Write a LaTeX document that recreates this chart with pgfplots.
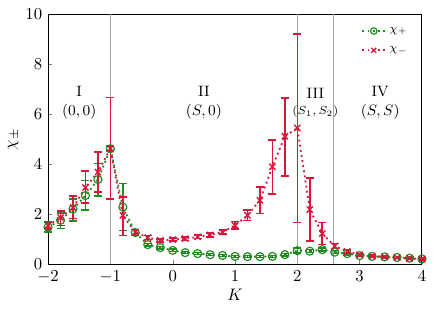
\documentclass[border=0pt]{standalone}
\usepackage{pgfplots}
\pgfplotsset{compat=1.18}
\usepackage{pgfplotstable}
\definecolor{cgreen}{RGB}{30,140,30}
\definecolor{cred}{RGB}{220,20,60}
\pgfplotstableread{
x y ep em
-2.0 1.49 0.20 0.20
-1.8 1.76 0.30 0.33
-1.6 2.21 0.40 0.48
-1.4 2.75 0.60 0.58
-1.2 3.39 0.64 0.67
-1.0 4.62 0.10 0.10
-0.8 2.29 0.94 0.94
-0.6 1.27 0.12 0.12
-0.4 0.79 0.05 0.05
-0.2 0.67 0.05 0.05
0.0 0.56 0.05 0.05
0.2 0.47 0.04 0.04
0.4 0.43 0.04 0.04
0.6 0.39 0.04 0.04
0.8 0.36 0.04 0.04
1.0 0.32 0.04 0.04
1.2 0.31 0.04 0.04
1.4 0.31 0.04 0.04
1.6 0.32 0.04 0.04
1.8 0.39 0.05 0.05
2.0 0.55 0.10 0.10
2.2 0.53 0.06 0.06
2.4 0.59 0.06 0.06
2.6 0.49 0.06 0.06
2.8 0.43 0.05 0.05
3.0 0.35 0.04 0.04
3.2 0.32 0.04 0.04
3.4 0.30 0.04 0.04
3.6 0.28 0.04 0.04
3.8 0.25 0.04 0.04
4.0 0.22 0.04 0.04
}\chiplus
\pgfplotstableread{
x y ep em
-2.0 1.56 0.15 0.15
-1.8 1.87 0.26 0.31
-1.6 2.27 0.45 0.44
-1.4 3.07 0.65 0.62
-1.2 3.69 0.80 0.80
-1.0 4.63 2.04 2.03
-0.8 1.96 0.74 0.80
-0.6 1.29 0.11 0.14
-0.4 1.07 0.08 0.08
-0.2 0.96 0.06 0.06
0.0 0.99 0.06 0.06
0.2 1.03 0.07 0.07
0.4 1.10 0.07 0.07
0.6 1.18 0.08 0.08
0.8 1.29 0.08 0.08
1.0 1.56 0.15 0.15
1.2 1.96 0.20 0.20
1.4 2.56 0.54 0.53
1.6 3.90 1.06 1.10
1.8 5.12 1.53 1.59
2.0 5.45 3.74 3.78
2.2 2.19 1.26 1.26
2.4 1.23 0.45 0.44
2.6 0.73 0.10 0.10
2.8 0.52 0.06 0.06
3.0 0.39 0.05 0.05
3.2 0.33 0.04 0.04
3.4 0.30 0.04 0.04
3.6 0.27 0.04 0.04
3.8 0.24 0.04 0.04
4.0 0.21 0.04 0.04
}\chiminus
\begin{document}
\begin{tikzpicture}
\begin{axis}[
  name=ax,
  scale only axis,
  width=224pt, height=150pt,
  xmin=-2, xmax=4, ymin=0, ymax=10,
  xtick={-2,-1,0,1,2,3,4},
  ytick={0,2,4,6,8,10},
  tick align=inside,
  xtick pos=bottom, ytick pos=left,
  major tick length=2.5pt,
  xlabel={$K$}, ylabel={$\chi_\pm$},
  xlabel style={yshift=3pt},
  ylabel style={yshift=-3pt},
  clip=false,
  axis line style={line width=0.6pt},
  legend style={draw=none, fill=none, at={(0.985,0.975)}, anchor=north east, font=\scriptsize, row sep=3pt},
  legend image post style={scale=0.8},
  legend cell align=left,
]
\addplot[gray!70, line width=0.4pt, forget plot] coordinates {(-1,0) (-1,10)};
\addplot[gray!70, line width=0.4pt, forget plot] coordinates {(2,0) (2,10)};
\addplot[gray!70, line width=0.4pt, forget plot] coordinates {(2.58,0) (2.58,10)};
\addplot[cgreen, line width=1.1pt, dotted, mark=o, mark size=2.4pt,
  mark options={solid, line width=0.7pt},
  error bars/.cd, y dir=both, y explicit,
  error bar style={solid, line width=1pt},
  error mark options={rotate=90, mark size=2.4pt, line width=1pt}]
  table[x=x, y=y, y error plus=ep, y error minus=em] {\chiplus};
\addlegendentry{$\chi_+$}
\addplot[cred, line width=1.1pt, dotted, mark=x, mark size=2.6pt,
  mark options={solid, line width=0.8pt},
  error bars/.cd, y dir=both, y explicit,
  error bar style={solid, line width=1pt},
  error mark options={rotate=90, mark size=2.4pt, line width=1pt}]
  table[x=x, y=y, y error plus=ep, y error minus=em] {\chiminus};
\addlegendentry{$\chi_-$}
\node[align=center, font=\small] at (axis cs:-1.5,6.45) {I\\$(0,0)$};
\node[align=center, font=\small] at (axis cs:0.5,6.45) {II\\$(S,0)$};
\node[align=center, font=\small] at (axis cs:2.29,6.45) {III\\[-1pt]{\scriptsize$(S_1,S_2)$}};
\node[align=center, font=\small] at (axis cs:3.33,6.45) {IV\\$(S,S)$};
\end{axis}
\pgfresetboundingbox
\path[use as bounding box] ([xshift=-28.8pt,yshift=-27pt]ax.south west) rectangle ([xshift=8.4pt,yshift=8.4pt]ax.north east);
\end{tikzpicture}
\end{document}
